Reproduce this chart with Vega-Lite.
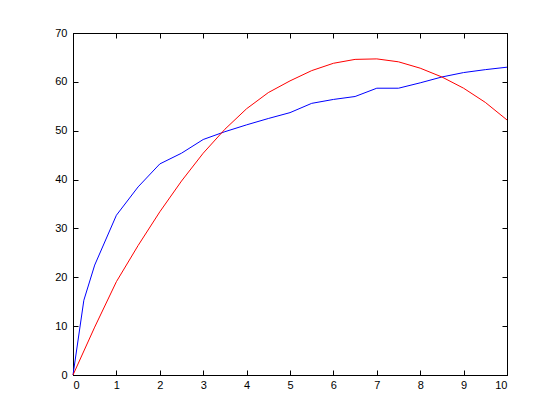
{
  "$schema": "https://vega.github.io/schema/vega-lite/v6.json",
  "autosize": "none",
  "width": 434,
  "height": 342,
  "padding": {"left": 73, "top": 33, "right": 53, "bottom": 45},
  "background": "white",
  "config": {
    "view": {"stroke": "black", "strokeWidth": 1},
    "axis": {
      "grid": false,
      "domainColor": "black",
      "tickColor": "black",
      "tickSize": -5,
      "labelColor": "black",
      "labelFont": "Liberation Sans",
      "labelFontSize": 11,
      "title": null
    }
  },
  "datasets": {
    "blue": [
      {"x": 0, "y": 0}, {"x": 0.25, "y": 15.3}, {"x": 0.5, "y": 22.5}, {"x": 1, "y": 32.7},
      {"x": 1.5, "y": 38.5}, {"x": 2, "y": 43.2}, {"x": 2.5, "y": 45.4}, {"x": 3, "y": 48.2},
      {"x": 3.5, "y": 49.8}, {"x": 4, "y": 51.2}, {"x": 4.5, "y": 52.5}, {"x": 5, "y": 53.7},
      {"x": 5.5, "y": 55.6}, {"x": 6, "y": 56.4}, {"x": 6.5, "y": 57.0}, {"x": 7, "y": 58.7},
      {"x": 7.5, "y": 58.7}, {"x": 8, "y": 59.8}, {"x": 8.5, "y": 61.0}, {"x": 9, "y": 61.9},
      {"x": 9.5, "y": 62.5}, {"x": 10, "y": 63.0}
    ],
    "red": [
      {"x": 0, "y": 0}, {"x": 0.5, "y": 9.8}, {"x": 1, "y": 19.1}, {"x": 1.5, "y": 26.5},
      {"x": 2, "y": 33.4}, {"x": 2.5, "y": 39.7}, {"x": 3, "y": 45.4}, {"x": 3.5, "y": 50.3},
      {"x": 4, "y": 54.5}, {"x": 4.5, "y": 57.8}, {"x": 5, "y": 60.2}, {"x": 5.5, "y": 62.3},
      {"x": 6, "y": 63.8}, {"x": 6.5, "y": 64.6}, {"x": 7, "y": 64.7}, {"x": 7.5, "y": 64.1},
      {"x": 8, "y": 62.8}, {"x": 8.5, "y": 61.0}, {"x": 9, "y": 58.7}, {"x": 9.5, "y": 55.8},
      {"x": 10, "y": 52.2}
    ]
  },
  "layer": [
    {
      "data": {"name": "blue"},
      "mark": {"type": "line", "color": "#0000ff", "strokeWidth": 1},
      "encoding": {
        "x": {"field": "x", "type": "quantitative", "scale": {"domain": [0, 10], "nice": false, "zero": false},
              "axis": {"orient": "bottom", "values": [0,1,2,3,4,5,6,7,8,9,10], "labelPadding": 9}},
        "y": {"field": "y", "type": "quantitative", "scale": {"domain": [0, 70], "nice": false},
              "axis": {"orient": "left", "values": [0,10,20,30,40,50,60,70], "labelPadding": 11}}
      }
    },
    {
      "data": {"name": "red"},
      "mark": {"type": "line", "color": "#ff0000", "strokeWidth": 1},
      "encoding": {
        "x": {"field": "x", "type": "quantitative", "scale": {"domain": [0, 10], "nice": false, "zero": false},
              "axis": {"orient": "top", "values": [0,1,2,3,4,5,6,7,8,9,10], "labels": false}},
        "y": {"field": "y", "type": "quantitative", "scale": {"domain": [0, 70], "nice": false},
              "axis": {"orient": "right", "values": [0,10,20,30,40,50,60,70], "labels": false}}
      }
    }
  ],
  "resolve": {"scale": {"x": "independent", "y": "independent"}, "axis": {"x": "independent", "y": "independent"}}
}
